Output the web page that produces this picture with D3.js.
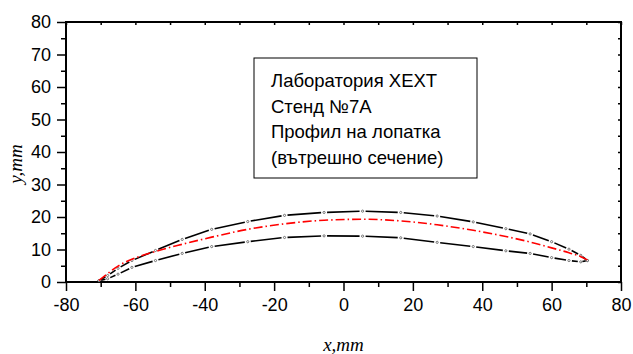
<!DOCTYPE html>
<html>
<head>
<meta charset="utf-8">
<script src="https://cdn.jsdelivr.net/npm/d3@7"></script>
<style>
  body { margin: 0; background: #fff; }
  svg { display: block; }
  .tick text { font-family: "Liberation Sans", Arial, sans-serif; font-size: 18px; fill: #000; }
</style>
</head>
<body>
<div id="chart"></div>
<script>
// stations along the chord, mm
var xs = [-70.5, -68, -65, -61, -54.2, -46.5, -38, -27.6, -17, -5.6, 5.5, 16.5, 27, 37.4, 46.8, 53.8, 60, 65, 68.4, 70.3];
// suction side (upper), pressure side (lower), mean line (red)
var upperY  = [0.4, 2.0, 4.2, 6.6, 9.7, 13.1, 16.2, 18.6, 20.5, 21.4, 21.8, 21.4, 20.3, 18.5, 16.4, 14.8, 12.4, 10.1, 8.2, 6.6];
var lowerY  = [0.4, 1.0, 2.4, 4.5, 6.6, 8.8, 10.9, 12.4, 13.7, 14.2, 14.1, 13.6, 12.2, 10.9, 9.6, 8.8, 7.5, 6.6, 6.2, 6.6];
var camberY = [0.5, 2.6, 4.9, 7.0, 9.4, 11.6, 13.8, 16.2, 17.9, 19.0, 19.3, 18.8, 17.6, 15.9, 14.0, 12.3, 10.5, 9.0, 7.8, 6.8];

var xTicks = [-80, -60, -40, -20, 0, 20, 40, 60, 80];
var yTicks = [0, 10, 20, 30, 40, 50, 60, 70, 80];
var noteLines = ["Лаборатория ХЕХТ", "Стенд №7А", "Профил на лопатка", "(вътрешно сечение)"];

var W = 633, H = 354;
var m = {top: 22, right: 12, bottom: 72, left: 66};

var svg = d3.select("#chart").append("svg")
  .attr("width", W).attr("height", H);

var x = d3.scaleLinear().domain([-80, 80]).range([m.left, W - m.right]);
var y = d3.scaleLinear().domain([0, 80]).range([H - m.bottom, m.top]);
var fmt = d => String(d); // plain hyphen, like the original

// minor ticks first, then major on top
svg.append("g")
  .attr("transform", "translate(0," + y(0) + ")")
  .call(d3.axisBottom(x).tickValues(d3.range(-70, 80, 20)).tickSize(5).tickFormat(""))
  .call(g => g.select(".domain").remove());
svg.append("g")
  .attr("transform", "translate(" + x(-80) + ",0)")
  .call(d3.axisLeft(y).tickValues(d3.range(5, 80, 10)).tickSize(5).tickFormat(""))
  .call(g => g.select(".domain").remove());

svg.append("g")
  .attr("transform", "translate(0," + y(0) + ")")
  .call(d3.axisBottom(x).tickValues(xTicks).tickSize(9).tickPadding(7).tickFormat(fmt));
svg.append("g")
  .attr("transform", "translate(" + x(-80) + ",0)")
  .call(d3.axisLeft(y).tickValues(yTicks).tickSize(9).tickPadding(6).tickFormat(fmt));

// top and right with small inward ticks
svg.append("g")
  .attr("transform", "translate(0," + y(80) + ")")
  .call(d3.axisBottom(x).tickValues(d3.range(-80, 81, 10)).tickSize(3).tickFormat(""))
  .call(g => g.select(".domain").remove());
svg.append("g")
  .attr("transform", "translate(" + x(80) + ",0)")
  .call(d3.axisLeft(y).tickValues(d3.range(0, 81, 5)).tickSize(3).tickFormat(""))
  .call(g => g.select(".domain").remove());

svg.selectAll(".tick line").attr("stroke", "#000").attr("stroke-width", 1.5);
svg.selectAll(".domain").remove();

// frame
svg.append("rect")
  .attr("x", x(-80)).attr("y", y(80))
  .attr("width", x(80) - x(-80)).attr("height", y(0) - y(80))
  .attr("fill", "none").attr("stroke", "#000").attr("stroke-width", 2);

// curves: line pieces broken around small markers
function brokenLine(ys, color) {
  var pts = xs.map((d, i) => [x(d), y(ys[i])]);
  var segs = d3.pairs(pts).map(function(p) {
    var dx = p[1][0] - p[0][0], dy = p[1][1] - p[0][1];
    var L = Math.sqrt(dx * dx + dy * dy), g = Math.min(3, L / 4);
    return [p[0][0] + dx / L * g, p[0][1] + dy / L * g, p[1][0] - dx / L * g, p[1][1] - dy / L * g];
  });
  svg.append("g").selectAll("line").data(segs).join("line")
    .attr("x1", d => d[0]).attr("y1", d => d[1])
    .attr("x2", d => d[2]).attr("y2", d => d[3])
    .attr("stroke", color).attr("stroke-width", 1.6);
  svg.append("g").selectAll("circle").data(pts).join("circle")
    .attr("cx", d => d[0]).attr("cy", d => d[1]).attr("r", 1.1)
    .attr("fill", "#fff").attr("stroke", "#444").attr("stroke-width", 0.7);
}
brokenLine(upperY, "#000");
brokenLine(lowerY, "#000");

svg.append("path")
  .datum(xs.map((d, i) => [d, camberY[i]]))
  .attr("fill", "none").attr("stroke", "#ff0000").attr("stroke-width", 1.6)
  .attr("stroke-dasharray", "9,3,1.5,3")
  .attr("d", d3.line().x(d => x(d[0])).y(d => y(d[1])).curve(d3.curveMonotoneX));

// note box
svg.append("rect")
  .attr("x", 254).attr("y", 58).attr("width", 223).attr("height", 120)
  .attr("fill", "#fff").attr("stroke", "#000").attr("stroke-width", 1);
svg.append("g").selectAll("text").data(noteLines).join("text")
  .attr("x", 271).attr("y", (d, i) => 87 + i * 25.5)
  .attr("font-family", "Liberation Sans, Arial, sans-serif")
  .attr("font-size", 18.5).attr("fill", "#000")
  .text(d => d);

// axis titles
svg.append("text")
  .attr("x", x(0)).attr("y", 351)
  .attr("text-anchor", "middle")
  .attr("font-family", "Liberation Serif, Times New Roman, serif")
  .attr("font-style", "italic").attr("font-size", 19)
  .text("x,mm");
svg.append("text")
  .attr("transform", "translate(22,164) rotate(-90)")
  .attr("text-anchor", "middle")
  .attr("font-family", "Liberation Serif, Times New Roman, serif")
  .attr("font-style", "italic").attr("font-size", 19)
  .text("y,mm");
</script>
</body>
</html>
